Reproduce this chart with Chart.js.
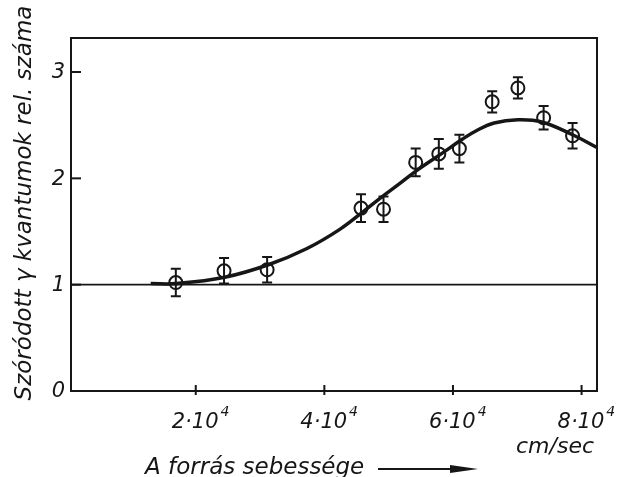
<!DOCTYPE html>
<html>
<head>
<meta charset="utf-8">
<script src="https://cdn.jsdelivr.net/npm/chart.js@4.4.1/dist/chart.umd.min.js"></script>
<style>
    body { margin: 0; background: #fff; }
</style>
</head>
<body>
<canvas id="grafico" width="618" height="477"></canvas>
<script>
// meresi pontok (sebesseg 10^4 cm/sec egysegben)
const sebesseg = [1.69, 2.44, 3.11, 4.57, 4.92, 5.42, 5.78, 6.10, 6.61, 7.01, 7.41, 7.86];
const relSzam = [1.02, 1.13, 1.14, 1.72, 1.71, 2.15, 2.23, 2.28, 2.72, 2.85, 2.57, 2.40];
const hiba = [0.13, 0.12, 0.12, 0.13, 0.12, 0.13, 0.14, 0.13, 0.10, 0.10, 0.11, 0.12];

// a kihuzott gorbe
const gorbeX = [1.30, 1.69, 2.45, 3.14, 3.73, 4.24, 4.61, 4.86, 5.17, 5.45, 5.84, 6.15, 6.37, 6.64, 7.01, 7.38, 7.86, 8.24];
const gorbeY = [1.01, 1.01, 1.07, 1.19, 1.34, 1.52, 1.69, 1.81, 1.95, 2.08, 2.24, 2.37, 2.45, 2.52, 2.55, 2.53, 2.41, 2.29];

const xTicks = [2, 4, 6, 8];
const xTickLabels = ['2·10', '4·10', '6·10', '8·10'];
const xTickExp = ['4', '4', '4', '4'];
const yTicks = [0, 1, 2, 3];
const xMin = 0.06, xMax = 8.24;
const yMin = 0, yMax = 3.32;

const ink = '#161616';
const betu = '"DejaVu Sans", sans-serif';

const keretPlugin = {
    id: 'keret',
    afterDatasetsDraw(chart) {
        let ctx = chart.ctx;
        let area = chart.chartArea;
        let xs = chart.scales.x;
        let ys = chart.scales.y;
        ctx.save();
        ctx.strokeStyle = ink;
        ctx.fillStyle = ink;

        // hibasavok
        ctx.lineWidth = 2;
        sebesseg.forEach((v, i) => {
            let px = xs.getPixelForValue(v);
            let top = ys.getPixelForValue(relSzam[i] + hiba[i]);
            let bot = ys.getPixelForValue(relSzam[i] - hiba[i]);
            ctx.beginPath();
            ctx.moveTo(px, top);
            ctx.lineTo(px, bot);
            ctx.moveTo(px - 5, top);
            ctx.lineTo(px + 5, top);
            ctx.moveTo(px - 5, bot);
            ctx.lineTo(px + 5, bot);
            ctx.stroke();
        });

        // keret
        ctx.lineWidth = 2;
        ctx.strokeRect(area.left, area.top, area.right - area.left, area.bottom - area.top);

        // y osztasok befele
        yTicks.forEach(t => {
            let py = ys.getPixelForValue(t);
            ctx.beginPath();
            ctx.moveTo(area.left, py);
            ctx.lineTo(area.left + 10, py);
            ctx.stroke();
        });
        // x osztasok
        xTicks.forEach(t => {
            let px = xs.getPixelForValue(t);
            ctx.beginPath();
            ctx.moveTo(px, area.bottom - 6);
            ctx.lineTo(px, area.bottom + 4);
            ctx.stroke();
        });

        // y feliratok
        ctx.font = 'italic 21px ' + betu;
        ctx.textAlign = 'right';
        ctx.textBaseline = 'middle';
        yTicks.forEach(t => {
            ctx.fillText(String(t), area.left - 6, ys.getPixelForValue(t) + 1);
        });

        // x feliratok 2·10^4
        ctx.textAlign = 'left';
        ctx.textBaseline = 'alphabetic';
        xTicks.forEach((t, i) => {
            let px = xs.getPixelForValue(t) - 24;
            ctx.font = 'italic 21px ' + betu;
            ctx.fillText(xTickLabels[i], px, 428);
            let w = ctx.measureText(xTickLabels[i]).width;
            ctx.font = 'italic 14px ' + betu;
            ctx.fillText(xTickExp[i], px + w + 2, 416);
        });

        ctx.font = 'italic 22px ' + betu;
        ctx.fillText('cm/sec', 516, 453);

        ctx.font = 'italic 23px ' + betu;
        ctx.fillText('A forrás sebessége', 145, 474);

        // nyil
        ctx.lineWidth = 2;
        ctx.beginPath();
        ctx.moveTo(378, 469);
        ctx.lineTo(460, 469);
        ctx.stroke();
        ctx.beginPath();
        ctx.moveTo(478, 469);
        ctx.lineTo(450, 465);
        ctx.lineTo(450, 473);
        ctx.closePath();
        ctx.fill();

        // y tengely cime
        ctx.translate(31, 203);
        ctx.rotate(-Math.PI / 2);
        ctx.font = 'italic 23px ' + betu;
        ctx.textAlign = 'center';
        ctx.fillText('Szóródott γ kvantumok rel. száma', 0, 0);
        ctx.restore();
    }
};

let pontok = sebesseg.map((v, i) => ({ x: v, y: relSzam[i] }));
let gorbe = gorbeX.map((v, i) => ({ x: v, y: gorbeY[i] }));
let egyesVonal = [{ x: xMin, y: 1 }, { x: xMax, y: 1 }];

let config = {
    type: 'scatter',
    data: {
        datasets: [
            {
                label: 'egy',
                data: egyesVonal,
                showLine: true,
                borderColor: ink,
                borderWidth: 1.8,
                pointRadius: 0
            },
            {
                label: 'gorbe',
                data: gorbe,
                showLine: true,
                borderColor: ink,
                borderWidth: 3.5,
                tension: 0.4,
                pointRadius: 0
            },
            {
                label: 'meres',
                data: pontok,
                pointStyle: 'circle',
                pointRadius: 6.5,
                backgroundColor: 'rgba(255,255,255,0)',
                borderColor: ink,
                borderWidth: 2
            }
        ]
    },
    options: {
        responsive: false,
        animation: false,
        layout: {
            padding: { left: 71, top: 38, right: 21, bottom: 86 }
        },
        plugins: {
            legend: { display: false },
            tooltip: { enabled: false }
        },
        scales: {
            x: { type: 'linear', min: xMin, max: xMax, display: false },
            y: { type: 'linear', min: yMin, max: yMax, display: false }
        }
    },
    plugins: [keretPlugin]
};

new Chart(document.getElementById('grafico').getContext('2d'), config);
</script>
</body>
</html>
